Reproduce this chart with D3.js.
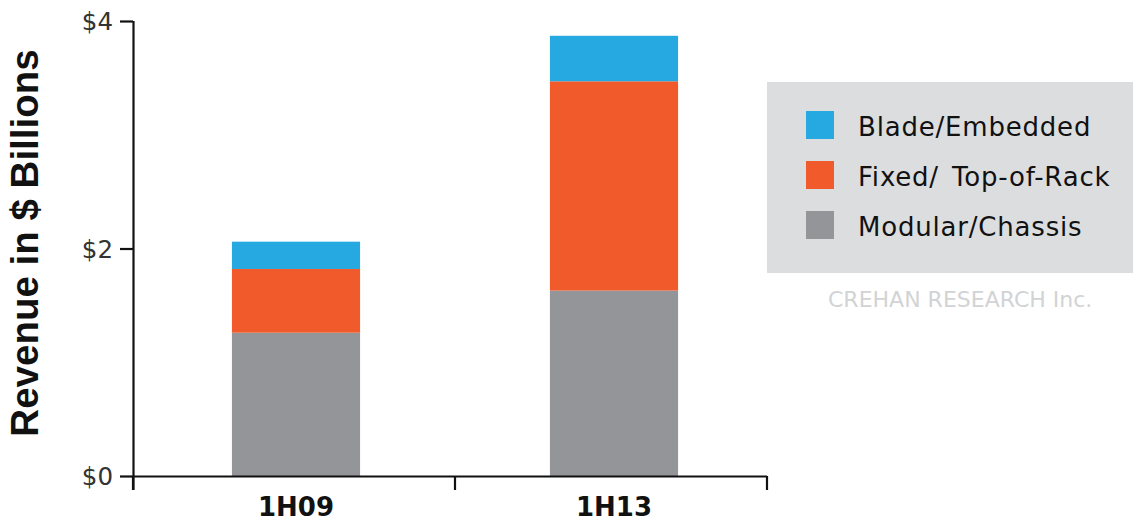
<!DOCTYPE html>
<html>
<head>
<meta charset="utf-8">
<script src="https://cdn.jsdelivr.net/npm/d3@7"></script>
<style>
  html, body { margin: 0; padding: 0; background: #fff; }
  svg { display: block; }
</style>
</head>
<body>
<svg id="chart" width="1133" height="521"></svg>
<script>
const categories = ["1H09", "1H13"];
const seriesNames = ["Modular/Chassis", "Fixed/ Top-of-Rack", "Blade/Embedded"];
const modularValues = [1.26, 1.63];
const fixedValues = [0.56, 1.84];
const bladeValues = [0.24, 0.40];
const seriesColors = ["#939598", "#f15a2b", "#26a9e0"];
const yTickValues = [0, 2, 4];
const legendOrder = ["Blade/Embedded", "Fixed/ Top-of-Rack", "Modular/Chassis"];
const yTitle = "Revenue in $ Billions";
const credit = "CREHAN RESEARCH Inc.";

const rows = categories.map((c, i) => ({
  cat: c,
  "Modular/Chassis": modularValues[i],
  "Fixed/ Top-of-Rack": fixedValues[i],
  "Blade/Embedded": bladeValues[i]
}));
const stacked = d3.stack().keys(seriesNames)(rows);
const color = d3.scaleOrdinal().domain(seriesNames).range(seriesColors);

const svg = d3.select("#chart");
const axisX0 = 133, axisX1 = 767, yBase = 476, yTop = 21;

const x = d3.scaleBand().domain(categories).range([137, 773]).paddingInner(0).paddingOuter(0);
const y = d3.scaleLinear().domain([0, 4]).range([yBase, yTop]);
const barW = x.bandwidth() * 0.403;

// bars
svg.append("g").selectAll("g").data(stacked).join("g")
  .attr("fill", d => color(d.key))
  .selectAll("rect").data(d => d).join("rect")
  .attr("x", d => x(d.data.cat) + x.bandwidth() / 2 - barW / 2)
  .attr("width", barW)
  .attr("y", d => y(d[1]))
  .attr("height", d => y(d[0]) - y(d[1]));

// y axis
const yAxis = svg.append("g").attr("transform", `translate(${axisX0},0)`)
  .call(d3.axisLeft(y).tickValues(yTickValues).tickSize(13).tickPadding(7)
    .tickFormat(d => "$" + d).tickSizeOuter(0));
yAxis.select(".domain").attr("stroke", "#111").attr("stroke-width", 2.2)
  .attr("d", `M0.5,${yTop}V${yBase + 14}`);
yAxis.selectAll(".tick line").attr("stroke", "#111").attr("stroke-width", 2.2);
yAxis.selectAll(".tick text").attr("fill", "#333")
  .style("font-family", "'DejaVu Sans', Verdana, sans-serif").style("font-size", "24.5px")
  .attr("dy", "0.36em");

// x axis
const xAxis = svg.append("g").attr("transform", `translate(0,${yBase})`)
  .call(d3.axisBottom(x).tickSize(0).tickPadding(0));
xAxis.select(".domain").attr("stroke", "#111").attr("stroke-width", 2.2)
  .attr("d", `M${axisX0},0.5H${axisX1}`);
xAxis.selectAll(".tick text").attr("fill", "#111")
  .attr("y", 39.5).attr("dy", null)
  .style("font-family", "'DejaVu Sans', Verdana, sans-serif").style("font-size", "26px")
  .style("font-weight", "bold");
const boundaries = [axisX0, x(categories[1]), axisX1];
xAxis.selectAll("line.bound").data(boundaries).join("line")
  .attr("class", "bound")
  .attr("x1", d => d).attr("x2", d => d)
  .attr("y1", 0).attr("y2", 14)
  .attr("stroke", "#111").attr("stroke-width", 2.2);

// y title
svg.append("text")
  .attr("transform", `translate(38,243) rotate(-90)`)
  .attr("text-anchor", "middle")
  .style("font-family", "'Liberation Sans', Arial, sans-serif")
  .style("font-size", "38.5px").style("font-weight", "bold")
  .attr("fill", "#111")
  .text(yTitle);

// legend
const lg = svg.append("g");
lg.append("rect").attr("x", 767).attr("y", 82).attr("width", 366).attr("height", 191).attr("fill", "#dcdddf");
const items = lg.selectAll("g.item").data(legendOrder).join("g").attr("class", "item")
  .attr("transform", (d, i) => `translate(806,${111 + i * 50})`);
items.append("rect").attr("width", 28).attr("height", 28).attr("fill", d => color(d));
items.append("text").attr("x", 52).attr("y", 25)
  .style("font-family", "'DejaVu Sans', Verdana, sans-serif").style("font-size", "26px")
  .style("letter-spacing", "0.8px").style("word-spacing", "4px")
  .attr("fill", "#111").text(d => d);

svg.append("text").attr("x", 828).attr("y", 307)
  .style("font-family", "'DejaVu Sans', Verdana, sans-serif").style("font-size", "22px")
  .attr("fill", "#d2d3d5").text(credit);
</script>
</body>
</html>
